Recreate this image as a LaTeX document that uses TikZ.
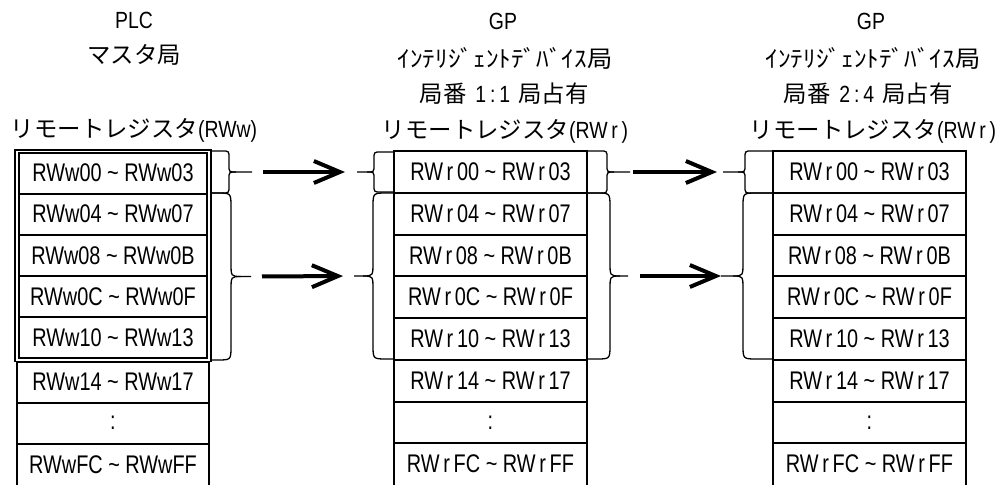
\documentclass[tikz,border=0pt]{standalone}
\usepackage{fontspec}
\setmainfont{Liberation Sans}
\newfontfamily\lat[FakeStretch=0.83]{Liberation Sans}
\newfontfamily\latc[FakeStretch=0.78]{Liberation Sans}
\newfontfamily\jp{Noto Sans CJK JP}
\newfontfamily\jpw[FakeStretch=1.08]{Noto Sans CJK JP}
\usetikzlibrary{arrows.meta}
\newcommand\rr{\makebox[14pt]{r}}
\newcommand\tld{\textasciitilde}
% #1 sign (+1 tip right, -1 tip left), #2 x attach, #3 x vertical, #4 x tip, #5 y top, #6 y bottom, #7 radius, #8 tip name, #9 tip offset
\newcommand\mybrace[9]{%
  \draw[bracestyle] (#2,#5) -- ({#3-(#1)*#7},#5) .. controls (#3,#5) .. (#3,{#5+#7})
    -- (#3,{(#5+#6)/2-#7}) .. controls (#3,{(#5+#6)/2}) .. ({#3+(#1)*#9},{(#5+#6)/2})
    -- (#4,{(#5+#6)/2}) coordinate (#8);
  \draw[bracestyle] ({#3+(#1)*#9},{(#5+#6)/2}) .. controls (#3,{(#5+#6)/2}) .. (#3,{(#5+#6)/2+#7})
    -- (#3,{#6-#7}) .. controls (#3,#6) .. ({#3-(#1)*#7},#6) -- (#2,#6);
}
\tikzset{
  cellbox/.style={draw, line width=2pt, inner sep=0pt, outer sep=0pt,
    minimum height=41.75pt, minimum width=193pt, font=\latc\fontsize{25.5}{26}\selectfont},
  cellL/.style={cellbox, minimum width=188pt, minimum height=41.1pt},
  cellLL/.style={cellbox, minimum width=192pt, minimum height=41.17pt},
  hd/.style={inner sep=0pt, font=\fontsize{23.4}{24}\selectfont},
  bracestyle/.style={line width=1.3pt, line join=round},
  frame/.style={line width=1.3pt},
  arr/.style={line width=4pt, -{Straight Barb[length=26pt,width=22pt]}},
}
\begin{document}
\begin{tikzpicture}[x=1pt,y=-1pt]
\useasboundingbox (0,0) rectangle (1005,485);
% headers
\node[hd] (hL1) at (134,20) {\lat PLC};
\node[hd] (hL2) at (134,55) {\jp マスタ局};
\node[hd] (hL3) at (134,130) {\jp リモートレジスタ\lat(RWw)};
\node[hd] (hM1) at (503,21) {\lat GP};
\node[hd] (hM2) at (505,58) {\jpw ｲﾝﾃﾘｼﾞｪﾝﾄﾃﾞﾊﾞｲｽ局};
\node[hd] (hM3) at (504,94) {\jp 局番\lat\hspace{9pt}1\,:\,1\hspace{8pt}\jp 局占有};
\node[hd] (hM4) at (505,131) {\jp リモートレジスタ\lat(RW\rr)};
\node[hd] (hR1) at (871,21) {\lat GP};
\node[hd] (hR2) at (873,58) {\jpw ｲﾝﾃﾘｼﾞｪﾝﾄﾃﾞﾊﾞｲｽ局};
\node[hd] (hR3) at (868,94) {\jp 局番\lat\hspace{9pt}2\,:\,4\hspace{8pt}\jp 局占有};
\node[hd] (hR4) at (873,131) {\jp リモートレジスタ\lat(RW\rr)};
% left table
\foreach \i/\a/\b in {0/00/03,1/04/07,2/08/0B,3/0C/0F,4/10/13}
  \node[cellL] (L\i) at (113,{173.05+41.1*\i}) {RWw\a{} \tld{} RWw\b};
\node[cellLL] (L5) at (113,382.1) {RWw14 \tld{} RWw17};
\node[cellLL] (L6) at (113,423.25) {:};
\node[cellLL, draw=none] (L7) at (113,464.4) {RWwFC \tld{} RWwFF};
\draw[line width=2pt] (L7.north west) -- (L7.south west) (L7.north east) -- (L7.south east);
\draw[frame] ([shift={(-4pt,2.5pt)}]L0.north west) rectangle ([shift={(4pt,-3.5pt)}]L4.south east);
% middle and right tables
\foreach \i/\a/\b in {0/00/03,1/04/07,2/08/0B,3/0C/0F,4/10/13,5/14/17} {
  \node[cellbox] (M\i) at (490.5,{171.875+41.75*\i}) {RW\rr\a{} \tld{} RW\rr\b};
  \node[cellbox] (R\i) at (869.5,{171.875+41.75*\i}) {RW\rr\a{} \tld{} RW\rr\b};
}
\node[cellbox] (M6) at (490.5,422.375) {:};
\node[cellbox] (R6) at (869.5,422.375) {:};
\node[cellbox, draw=none] (M7) at (490.5,464.125) {RW\rr FC \tld{} RW\rr FF};
\node[cellbox, draw=none] (R7) at (869.5,464.125) {RW\rr FC \tld{} RW\rr FF};
\draw[line width=2pt] (M7.north west) -- (M7.south west) (M7.north east) -- (M7.south east)
  (R7.north west) -- (R7.south west) (R7.north east) -- (R7.south east);
% braces
\mybrace{1}{211}{229}{252}{151}{193}{7}{t1}{7}
\mybrace{1}{211}{231}{251}{193}{360}{14}{t2}{10}
\mybrace{-1}{394}{374}{357}{152}{192}{7}{t3}{7}
\mybrace{-1}{394}{373}{354}{193}{359}{14}{t4}{10}
\mybrace{1}{587}{607}{630}{151}{193}{7}{t5}{7}
\mybrace{1}{587}{610}{628}{193}{359}{14}{t6}{10}
\mybrace{-1}{773}{745}{723}{151}{193}{7}{t7}{7}
\mybrace{-1}{773}{743}{721}{193}{359}{14}{t8}{10}
% arrows
\draw[arr, shorten <=11pt, shorten >=12pt] (t1) -- (t3);
\draw[arr, shorten <=11pt, shorten >=11pt] (t2) -- (t4);
\draw[arr, shorten <=3pt, shorten >=6pt] (t5) -- (t7);
\draw[arr, shorten <=12pt, shorten >=0pt] (t6) -- (t8);
\end{tikzpicture}
\end{document}
